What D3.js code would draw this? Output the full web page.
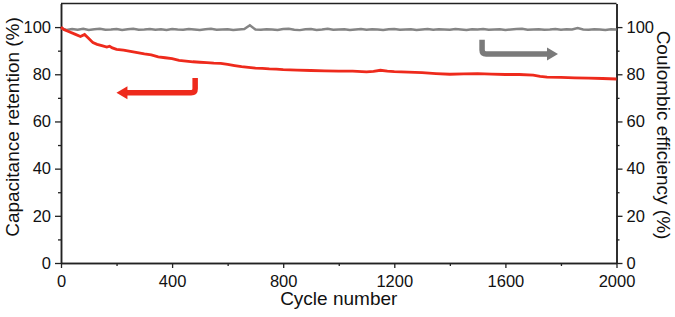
<!DOCTYPE html>
<html>
<head>
<meta charset="utf-8">
<script src="https://cdn.jsdelivr.net/npm/d3@7"></script>
<style>
  body { margin: 0; background: #fff; }
  svg text { font-family: "Liberation Sans", Arial, sans-serif; fill: #111; }
</style>
</head>
<body>
<svg class="cycle-chart" width="675" height="317"></svg>
<script>
// capacitance retention (red)
const capCycles = [0, 10, 25, 50, 70, 85, 100, 115, 130, 150, 165, 175, 185, 200, 225, 250, 275, 300, 325, 350,
  375, 400, 425, 450, 475, 500, 525, 550, 575, 600, 625, 650, 675, 700, 725, 750, 775, 800, 850, 900,
  950, 1000, 1050, 1100, 1125, 1150, 1175, 1200, 1250, 1300, 1350, 1400, 1450, 1500, 1550, 1600, 1650, 1700, 1725, 1750,
  1800, 1850, 1900, 1950, 2000];
const capValues = [100, 99.0, 98.2, 97.0, 96.0, 96.9, 95.2, 93.4, 92.7, 92.0, 91.5, 91.9, 91.2, 90.6, 90.2, 89.7, 89.2, 88.6, 88.2, 87.4,
  87.0, 86.6, 85.9, 85.6, 85.3, 85.1, 84.9, 84.7, 84.6, 84.2, 83.7, 83.2, 82.9, 82.6, 82.5, 82.3, 82.2, 82.0, 81.8, 81.6,
  81.4, 81.3, 81.3, 81.0, 81.2, 81.7, 81.3, 81.1, 80.9, 80.7, 80.3, 80.0, 80.2, 80.3, 80.1, 79.9, 79.9, 79.6, 79.1, 78.8,
  78.7, 78.5, 78.4, 78.2, 78.0];

// coulombic efficiency (grey), every 20 cycles
const ceCycles = d3.range(0, 2001, 20);
const ceValues = [
  99.6, 98.8, 99.2, 98.9, 99.3, 98.8, 99.1, 99.3, 98.9, 99.0,
  99.2, 98.8, 99.1, 99.3, 98.9, 99.0, 99.2, 98.9, 99.1, 98.8,
  99.2, 99.0, 98.9, 99.2, 99.0, 98.8, 99.1, 99.3, 98.9, 99.0,
  99.1, 98.8, 99.0, 99.2, 100.8, 99.0, 98.9, 99.1, 99.0, 98.8,
  99.2, 99.3, 98.9, 98.7, 99.1, 99.2, 98.8, 99.0, 99.3, 98.9,
  99.0, 99.1, 98.8, 99.0, 99.2, 98.9, 99.1, 99.0, 98.8, 99.1,
  99.2, 98.9, 99.0, 99.1, 98.8, 99.0, 99.2, 98.9, 99.1, 99.0,
  98.9, 99.2, 99.0, 98.8, 99.1, 99.0, 99.2, 98.9, 99.0, 99.1,
  98.8, 99.0, 99.2, 99.3, 98.9, 99.0, 99.1, 98.9, 99.0, 99.2,
  98.9, 99.1, 99.0, 99.6, 99.0, 98.9, 99.1, 99.0, 98.8, 99.1, 99.0];

const xTicks = [0, 400, 800, 1200, 1600, 2000];
const xMinorTicks = [200, 600, 1000, 1400, 1800];
const yTicks = [0, 20, 40, 60, 80, 100];
const yMinorTicks = [10, 30, 50, 70, 90];

// arrow annotations in data units
const redArrow = { x0: 483, yTop: 78.4, yBot: 72.2, xEnd: 232 };
const greyArrow = { x0: 1516, yTop: 94.6, yBot: 88.6, xEnd: 1757 };

const svg = d3.select('.cycle-chart');
const plot = { left: 61, right: 616.5, top: 3.5, bottom: 263 };

const x = d3.scaleLinear().domain([0, 2000]).range([plot.left, plot.right]);
const y = d3.scaleLinear().domain([0, 110]).range([plot.bottom, plot.top]);

const red = '#ee2a1c';
const grey = '#858585';
const axisColor = '#222';

// top frame
svg.append('line')
  .attr('x1', plot.left).attr('x2', plot.right)
  .attr('y1', plot.top).attr('y2', plot.top)
  .attr('stroke', axisColor).attr('stroke-width', 1.5);

const styleAxis = g => {
  g.selectAll('.domain').attr('stroke', axisColor).attr('stroke-width', 1.5);
  g.selectAll('.tick line').attr('stroke', axisColor).attr('stroke-width', 1.3);
  g.selectAll('.tick text').attr('font-size', 16.5).attr('fill', '#111');
};

// bottom axis
svg.append('g')
  .attr('transform', `translate(0, ${plot.bottom})`)
  .call(d3.axisBottom(x).tickValues(xMinorTicks).tickSize(3).tickSizeOuter(0).tickFormat(''))
  .call(styleAxis);
svg.append('g')
  .attr('transform', `translate(0, ${plot.bottom})`)
  .call(d3.axisBottom(x).tickValues(xTicks).tickSize(5).tickSizeOuter(0).tickPadding(7).tickFormat(d3.format('d')))
  .call(styleAxis);

// left axis
svg.append('g')
  .attr('transform', `translate(${plot.left}, 0)`)
  .call(d3.axisLeft(y).tickValues(yMinorTicks).tickSize(3).tickSizeOuter(0).tickFormat(''))
  .call(styleAxis);
svg.append('g')
  .attr('transform', `translate(${plot.left}, 0)`)
  .call(d3.axisLeft(y).tickValues(yTicks).tickSize(6).tickSizeOuter(0).tickPadding(4))
  .call(styleAxis);

// right axis
svg.append('g')
  .attr('transform', `translate(${plot.right}, 0)`)
  .call(d3.axisRight(y).tickValues(yMinorTicks).tickSize(3).tickSizeOuter(0).tickFormat(''))
  .call(styleAxis);
svg.append('g')
  .attr('transform', `translate(${plot.right}, 0)`)
  .call(d3.axisRight(y).tickValues(yTicks).tickSize(6).tickSizeOuter(0).tickPadding(4))
  .call(styleAxis);

// axis titles
svg.append('text')
  .attr('x', (plot.left + plot.right) / 2).attr('y', 305)
  .attr('text-anchor', 'middle').attr('font-size', 19)
  .text('Cycle number');

svg.append('text')
  .attr('transform', `translate(19, 127) rotate(-90)`)
  .attr('text-anchor', 'middle').attr('font-size', 19)
  .text('Capacitance retention (%)');

svg.append('text')
  .attr('transform', `translate(657, 135) rotate(90)`)
  .attr('text-anchor', 'middle').attr('font-size', 19)
  .text('Coulombic efficiency (%)');

// data lines
const ceLine = d3.line().x((d, i) => x(ceCycles[i])).y(d => y(d));
svg.append('path')
  .datum(ceValues)
  .attr('d', ceLine)
  .attr('fill', 'none')
  .attr('stroke', grey)
  .attr('stroke-width', 2.4);

const capLine = d3.line().x((d, i) => x(capCycles[i])).y(d => y(d));
svg.append('path')
  .datum(capValues)
  .attr('d', capLine)
  .attr('fill', 'none')
  .attr('stroke', red)
  .attr('stroke-width', 2.8);

// bent arrows
const drawArrow = (a, color, dir) => {
  const xs = x(a.x0), yt = y(a.yTop), yb = y(a.yBot), xe = x(a.xEnd);
  const r = 4;
  svg.append('path')
    .attr('d', `M${xs},${yt} L${xs},${yb - r} Q${xs},${yb} ${xs - dir * r},${yb} L${xe},${yb}`)
    .attr('fill', 'none')
    .attr('stroke', color)
    .attr('stroke-width', 5.5);
  svg.append('path')
    .attr('d', `M${xe - dir * 9},${yb} L${xe + dir * 2},${yb - 6.5} L${xe + dir * 2},${yb + 6.5} Z`)
    .attr('fill', color);
};
drawArrow(redArrow, red, 1);
drawArrow(greyArrow, '#7a7a7a', -1);
</script>
</body>
</html>
